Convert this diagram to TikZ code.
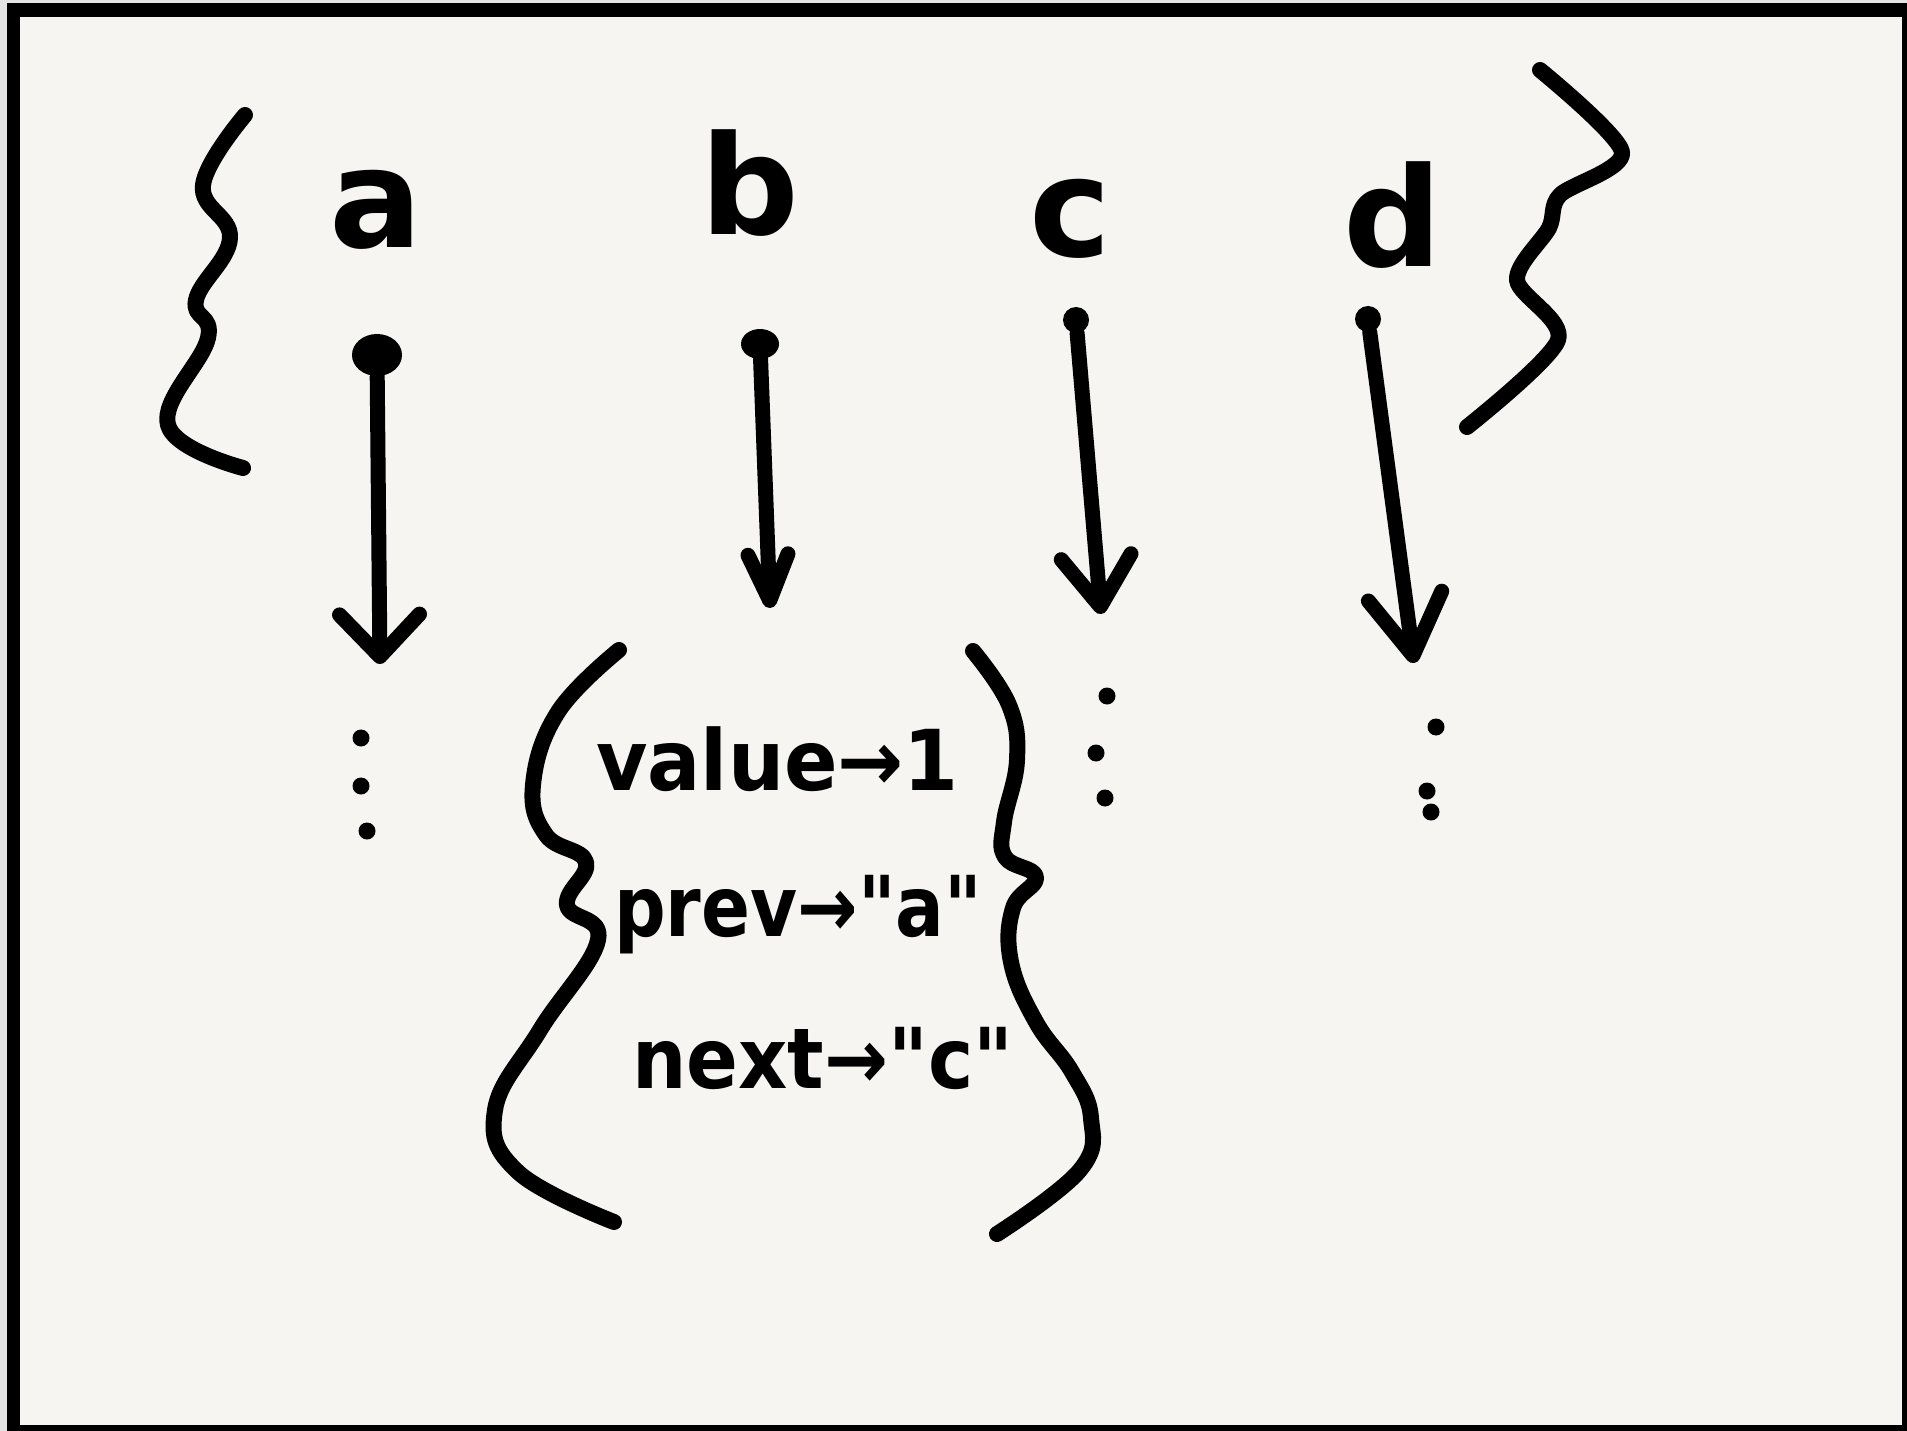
\documentclass[tikz,border=0pt]{standalone}
\usepackage{fontspec}
\usepackage{graphicx}
\setmainfont{DejaVu Sans}[Ligatures=TeXOff]
\usetikzlibrary{arrows.meta,shapes.geometric}
\definecolor{paper}{HTML}{F6F5F1}
\definecolor{outergray}{HTML}{E4E4E4}
\definecolor{ink}{HTML}{000000}
\begin{document}
\begin{tikzpicture}[x=1pt,y=-1pt,
  stroke/.style={draw=ink,line width=16pt,line cap=round,line join=round},
  letter/.style={font=\fontsize{138}{138}\selectfont\bfseries,inner sep=0pt,anchor=base,text=ink},
  field/.style={font=\fontsize{84}{84}\selectfont\bfseries,inner sep=0pt,anchor=base west,text=ink},
  pin/.style={ellipse,fill=ink,inner sep=0pt},
  ptr/.style={draw=ink,line width=15pt,line cap=round,line join=round},
  sdot/.style={circle,fill=ink,inner sep=0pt,minimum size=17pt}]
\useasboundingbox (0,0) rectangle (1907,1431);
% frame
\fill[outergray] (0,0) rectangle (1907,1431);
\fill[ink] (7,3) rectangle (1907,1431);
\fill[paper] (20,17) rectangle (1902,1425);

% letters
\node[letter] (la) at (376,248) {a};
\node[letter] (lb) at (750,235) {b};
\node[letter] (lc) at (1070,257) {c};
\node[letter] (ld) at (1393,267) {d};

% outer braces
\draw[stroke] plot[smooth,tension=0.7] coordinates {(245,115) (203,185) (230,238) (196,300) (208,338) (168,425) (243,468)};
\draw[stroke] plot[smooth,tension=0.5] coordinates {(1540,70) (1622,152) (1560,195) (1549,228) (1517,280) (1558,340) (1467,427)};

% pointers
\node[pin,minimum width=50pt,minimum height=42pt] (pa) at (377,355) {};
\node[pin,minimum width=38pt,minimum height=30pt] (pb) at (760,344) {};
\node[pin,minimum width=26pt,minimum height=26pt] (pc) at (1076,320) {};
\node[pin,minimum width=26pt,minimum height=26pt] (pd) at (1368,319) {};
\coordinate (ta) at (380,664);
\coordinate (tb) at (770,608);
\coordinate (tc) at (1101,614);
\coordinate (td) at (1414,663);
\draw[ptr,-{Straight Barb[length=42pt,width=80pt,round]}] (pa) -- (ta);
\draw[ptr,-{Straight Barb[length=46pt,width=40pt,round]}] (pb) -- (tb);
\draw[ptr,-{Straight Barb[length=50pt,width=70pt,round]}] (pc) -- (tc);
\draw[ptr,-{Straight Barb[length=60pt,width=74pt,round]}] (pd) -- (td);

% ellipsis dots
\node[sdot] (a1) at (361,738) {};
\node[sdot] (a2) at (361,786) {};
\node[sdot] (a3) at (367,831) {};
\node[sdot] (c1) at (1107,696) {};
\node[sdot] (c2) at (1096,753) {};
\node[sdot] (c3) at (1105,798) {};
\node[sdot] (d1) at (1436,727) {};
\node[sdot] (d2) at (1427,791) {};
\node[sdot] (d3) at (1431,812) {};

% record braces
\draw[stroke] plot[smooth,tension=0.7] coordinates {(619,650) (558,712) (533,785) (546,835) (586,862) (567,905) (598,940) (540,1030) (495,1110) (518,1172) (614,1222)};
\draw[stroke] plot[smooth,tension=0.7] coordinates {(973,651) (1009,705) (1017,760) (1004,822) (1005,857) (1036,877) (1013,908) (1011,962) (1036,1022) (1072,1072) (1091,1118) (1080,1170) (997,1234)};

% record fields
\node[field] (fv) at (596,790) {\scalebox{0.94}[1]{value→1}};
\node[field] (fp) at (614,936) {\scalebox{0.86}[1]{prev→"a"}};
\node[field] (fn) at (632,1088) {\scalebox{0.91}[1]{next→"c"}};
\end{tikzpicture}
\end{document}
